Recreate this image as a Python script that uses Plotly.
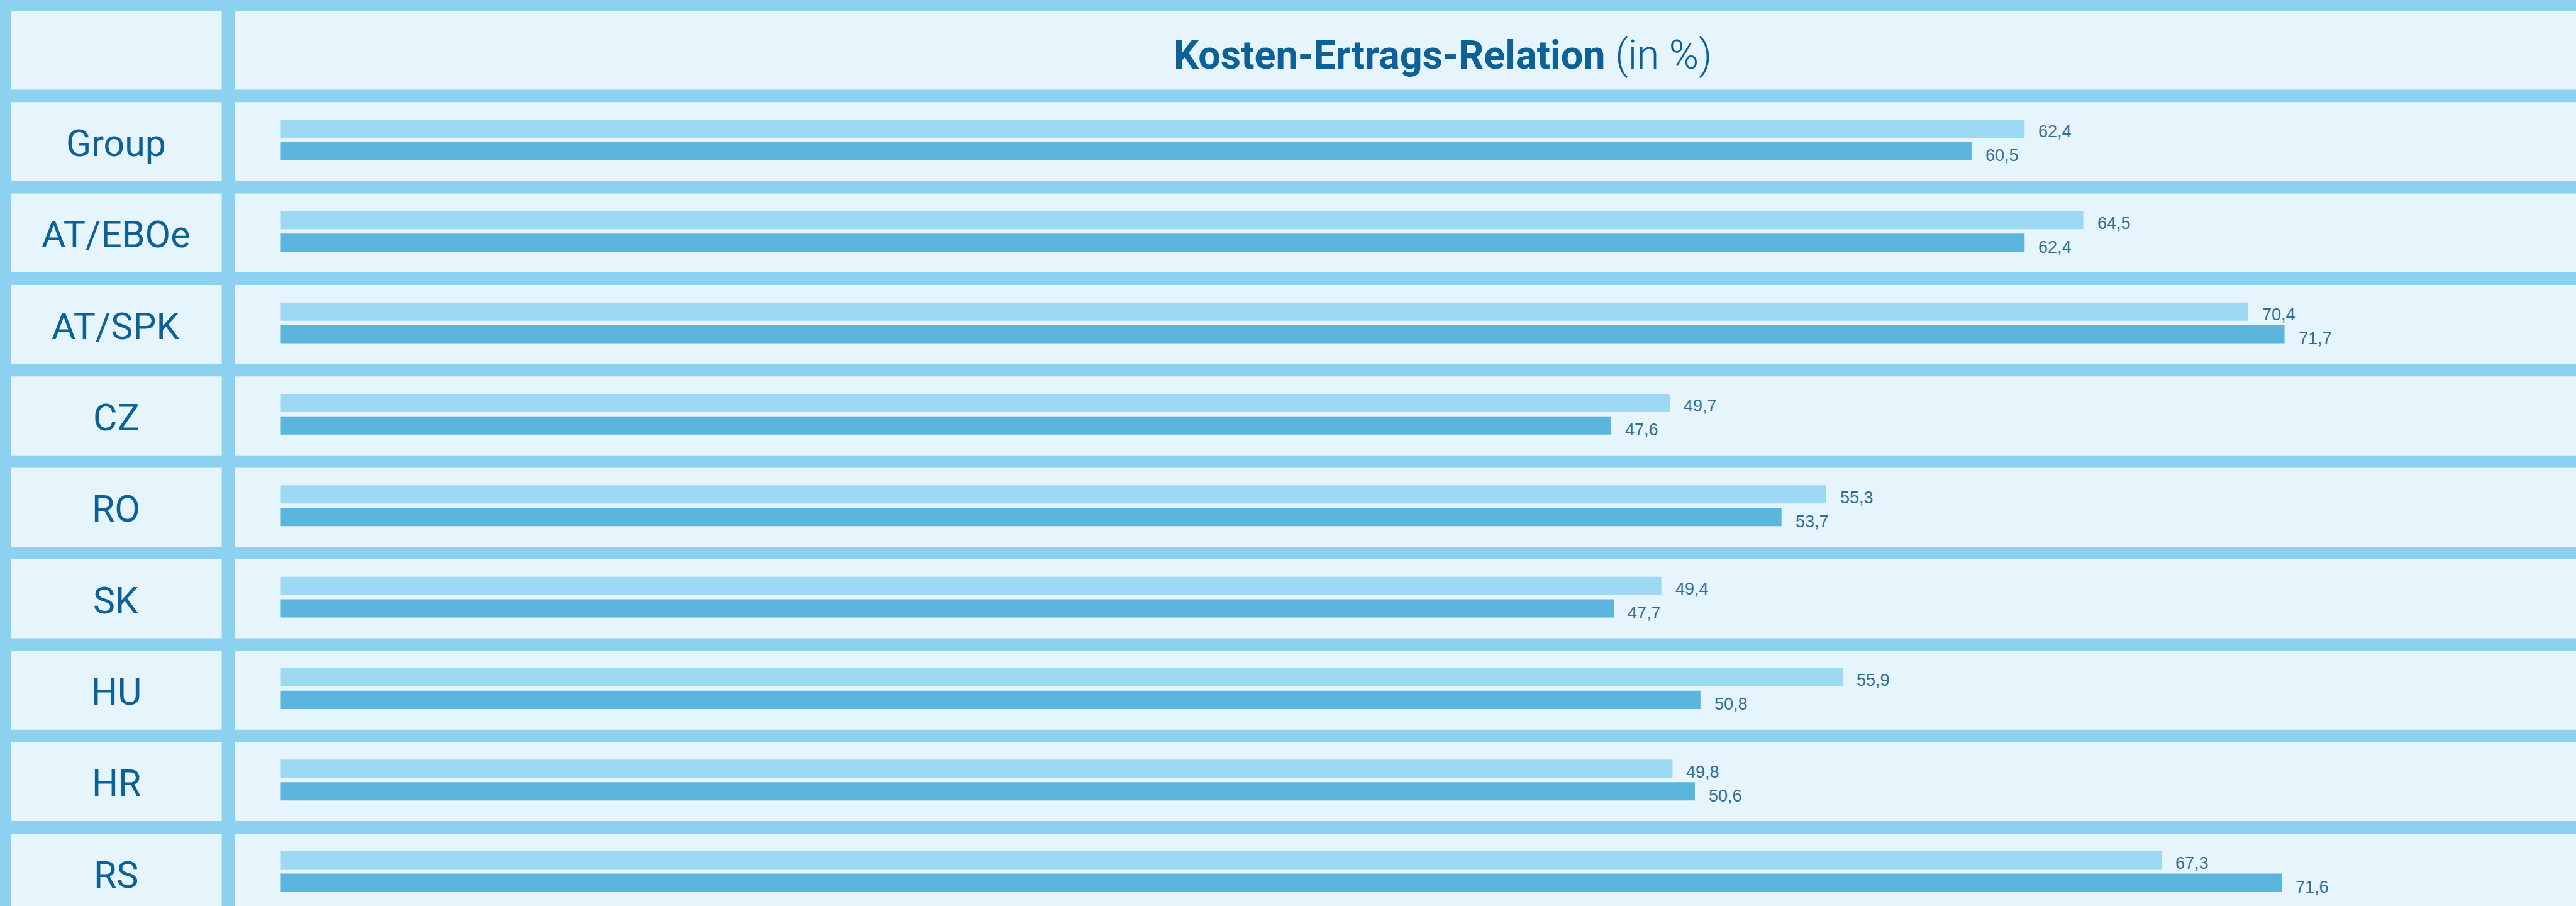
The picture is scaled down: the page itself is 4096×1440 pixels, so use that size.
import plotly.graph_objects as go

# ---------------- data ----------------
categories = ["Group", "AT/EBOe", "AT/SPK", "CZ", "RO", "SK", "HU", "HR", "RS"]
values_prev = [62.4, 64.5, 70.4, 49.7, 55.3, 49.4, 55.9, 49.8, 67.3]   # light bars
values_curr = [60.5, 62.4, 71.7, 47.6, 53.7, 47.7, 50.8, 50.6, 71.6]   # dark bars
title_main = "Kosten-Ertrags-Relation"
title_unit = "(in %)"

# ---------------- style ----------------
W, H = 4096, 1440
BAND = "#8cd1f0"
CELL = "#e6f4fc"
LIGHT = "#9dd9f3"
DARK = "#5bb5dd"
TXT = "#0d6196"
VAL = "#336e92"

fig = go.Figure()
fig.add_trace(go.Bar(y=categories, x=values_prev, orientation="h", name="prev",
                     marker=dict(color=LIGHT, line=dict(width=0)), hoverinfo="x+y"))
fig.add_trace(go.Bar(y=categories, x=values_curr, orientation="h", name="curr",
                     marker=dict(color=DARK, line=dict(width=0)), hoverinfo="x+y"))

shapes = []
n = len(categories)
rows = [(-1.4126, -0.5492)] + [(i - 0.4141, i + 0.4493) for i in range(n)]
for (y0, y1) in rows:
    shapes.append(dict(type="rect", xref="x", yref="y", x0=-9.664, x1=-2.113, y0=y0, y1=y1,
                       fillcolor=CELL, line=dict(width=0), layer="below"))
    shapes.append(dict(type="rect", xref="x", yref="y", x0=-1.633, x1=95, y0=y0, y1=y1,
                       fillcolor=CELL, line=dict(width=0), layer="below"))

annotations = []
for i, c in enumerate(categories):
    annotations.append(dict(x=-5.889, y=c, xref="x", yref="y", text=c, showarrow=False,
                            xanchor="center", yanchor="middle", yshift=-5,
                            font=dict(family="Roboto", size=59, color=TXT)))
for c, v in zip(categories, values_prev):
    annotations.append(dict(x=v, y=c, xref="x", yref="y", text=f"{v:.1f}".replace(".", ","),
                            showarrow=False, xanchor="left", yanchor="middle",
                            xshift=20, yshift=13,
                            font=dict(family="Liberation Sans", size=27, color=VAL)))
for c, v in zip(categories, values_curr):
    annotations.append(dict(x=v, y=c, xref="x", yref="y", text=f"{v:.1f}".replace(".", ","),
                            showarrow=False, xanchor="left", yanchor="middle",
                            xshift=20, yshift=-25,
                            font=dict(family="Liberation Sans", size=27, color=VAL)))
annotations.append(dict(x=41.57, y=-0.93, xref="x", yref="y",
                        text=(f"<b>{title_main}</b> "
                              f"<span style='font-weight:300;font-size:64px'>{title_unit}</span>"),
                        showarrow=False, xanchor="center", yanchor="middle",
                        font=dict(family="Roboto", size=63, color=TXT)))

fig.update_layout(
    width=W, height=H,
    margin=dict(l=0, r=0, t=0, b=0, pad=0),
    paper_bgcolor=BAND, plot_bgcolor=BAND,
    barmode="group", bargap=0.5066, bargroupgap=0.19,
    showlegend=False,
    shapes=shapes, annotations=annotations,
    xaxis=dict(range=[-10.048, 82.13], showgrid=False, zeroline=False,
               showticklabels=False, showline=False, ticks="", fixedrange=True),
    yaxis=dict(type="category", categoryorder="array", categoryarray=categories,
               range=[8.3776, -1.5302], showgrid=False, zeroline=False,
               showticklabels=False, showline=False, ticks="", fixedrange=True),
    separators=",.",
)

fig.write_html("out.html", config={"displayModeBar": False},
               post_script="document.body.style.margin='0';document.body.style.background='" + BAND + "';")
